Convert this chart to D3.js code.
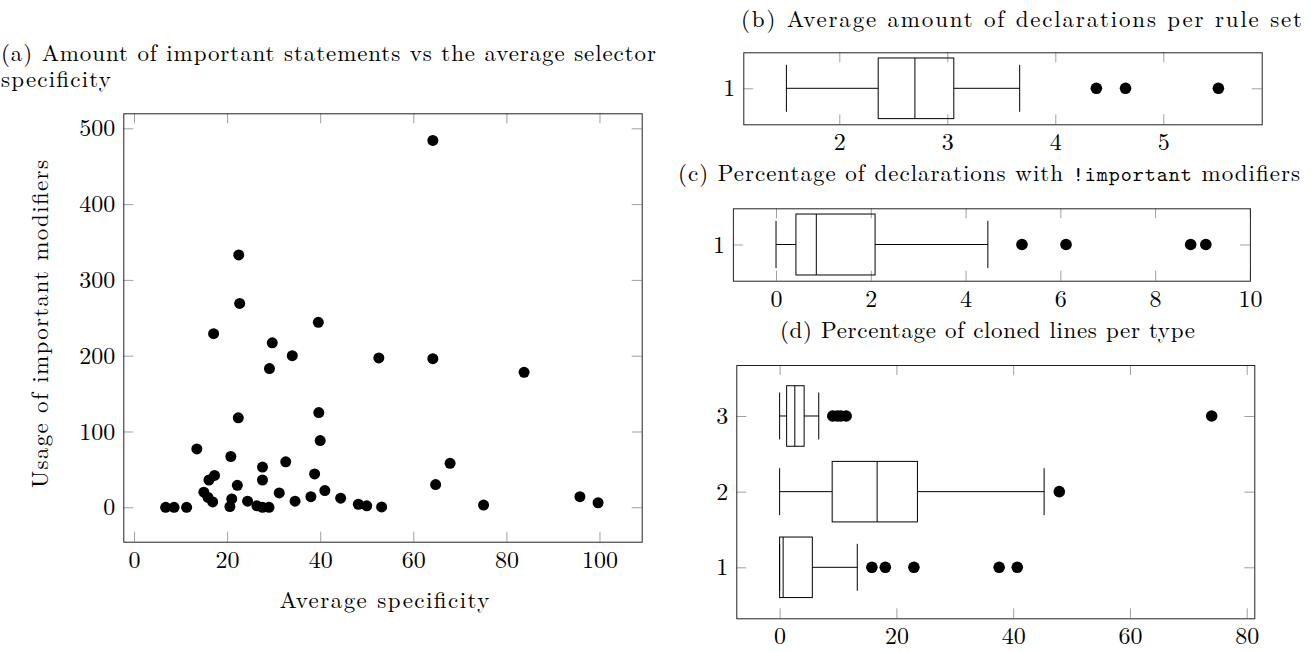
<!DOCTYPE html>
<html>
<head>
<meta charset="utf-8">
<script src="https://cdn.jsdelivr.net/npm/d3@7"></script>
<style>
  body { margin: 0; background: #fff; }
  svg { display: block; }
</style>
</head>
<body>
<div id="chart"></div>
<script>
// (a) scatter: average selector specificity vs number of !important usages
const specificity = [6.8, 8.6, 11.3, 13.5, 15.0, 15.9, 16.9, 16.1, 17.3, 17.1,
    20.6, 21.0, 20.8, 22.2, 22.4, 22.5, 22.7, 24.4, 26.4, 27.6,
    29.0, 27.6, 27.6, 29.7, 29.1, 31.2, 32.6, 34.0, 34.6, 38.0,
    38.8, 39.6, 39.7, 40.0, 41.0, 44.4, 48.2, 50.0, 52.6, 53.2,
    64.2, 64.2, 64.8, 67.9, 75.1, 83.8, 95.8, 99.7];
const importantUsage = [0, 0, 0, 77, 20, 13, 7, 36, 42, 229,
    1, 11, 67, 29, 118, 333, 269, 8, 2, 0,
    0, 53, 36, 217, 183, 19, 60, 200, 8, 14,
    44, 244, 125, 88, 22, 12, 4, 2, 197, 0.5,
    484, 196, 30, 58, 3, 178, 14, 6];
const scatterXTicks = [0, 20, 40, 60, 80, 100];
const scatterYTicks = [0, 100, 200, 300, 400, 500];

// box stats are [lower whisker, q1, median, q3, upper whisker]
const declarationStats = [1.51, 2.36, 2.70, 3.06, 3.67];
const declarationOutliers = [4.38, 4.65, 5.51];
const declarationTicks = [2, 3, 4, 5];

const importantStats = [0, 0.42, 0.85, 2.09, 4.47];
const importantOutliers = [5.19, 6.12, 8.75, 9.07];
const importantTicks = [0, 2, 4, 6, 8, 10];

const cloneTypes = [1, 2, 3];
const cloneStats = [
    [0, 0, 0.6, 5.6, 13.3],
    [0, 9.0, 16.7, 23.6, 45.3],
    [0, 1.2, 2.6, 4.2, 6.7]
];
const cloneOutliers = [
    [15.8, 18.1, 23.0, 37.6, 40.7],
    [47.9],
    [9.1, 9.9, 10.5, 11.4, 74.0]
];
const cloneTicks = [0, 20, 40, 60, 80];
const singleTick = [1];

const WIDTH = 1311, HEIGHT = 653;
const SERIF = '"Latin Modern Roman"';
const MONO = '"Latin Modern Mono", "DejaVu Sans Mono", monospace';
const TICK_FONT = "24px", TITLE_FONT = "23px";
const TICK_COLOR = "#a0a0a0";
const TICK_LEN = 10;
const BOX_HALF = 0.4, CAP_HALF = 0.31;

const FRAME_A = { LEFT: 123.3, RIGHT: 641.7, TOP: 113.3, BOTTOM: 541.7 },
    FRAME_B = { LEFT: 743.3, RIGHT: 1261.7, TOP: 52.3, BOTTOM: 124.3 },
    FRAME_C = { LEFT: 732.9, RIGHT: 1249.9, TOP: 208.3, BOTTOM: 280.7 },
    FRAME_D = { LEFT: 736.3, RIGHT: 1254.3, TOP: 365, BOTTOM: 618.3 };

const svg = d3.select("#chart")
    .append("svg")
    .attr("width", WIDTH)
    .attr("height", HEIGHT);

function cleanAxis(sel) {
    sel.attr("font-family", null).attr("font-size", null);
    sel.select(".domain").remove();
    sel.selectAll(".tick line").attr("stroke", TICK_COLOR);
    sel.selectAll(".tick text").attr("fill", "#000");
}

function makePanel(frame, xDomain, yDomain, xTicks, yTicks) {
    const x = d3.scaleLinear().domain(xDomain).range([frame.LEFT, frame.RIGHT]);
    const y = d3.scaleLinear().domain(yDomain).range([frame.BOTTOM, frame.TOP]);
    const g = svg.append("g");
    const fmt = d3.format("d");

    g.append("g")
        .attr("transform", `translate(0, ${frame.BOTTOM})`)
        .call(d3.axisBottom(x).tickValues(xTicks).tickFormat(fmt)
            .tickSizeInner(-TICK_LEN).tickSizeOuter(0).tickPadding(9))
        .call(cleanAxis);
    g.append("g")
        .attr("transform", `translate(0, ${frame.TOP})`)
        .call(d3.axisTop(x).tickValues(xTicks).tickSizeInner(-TICK_LEN).tickSizeOuter(0).tickFormat(""))
        .call(cleanAxis);
    g.append("g")
        .attr("transform", `translate(${frame.LEFT}, 0)`)
        .call(d3.axisLeft(y).tickValues(yTicks).tickFormat(fmt)
            .tickSizeInner(-TICK_LEN).tickSizeOuter(0).tickPadding(8))
        .call(cleanAxis);
    g.append("g")
        .attr("transform", `translate(${frame.RIGHT}, 0)`)
        .call(d3.axisRight(y).tickValues(yTicks).tickSizeInner(-TICK_LEN).tickSizeOuter(0).tickFormat(""))
        .call(cleanAxis);

    // Frame on top of the ticks
    g.append("rect")
        .attr("x", frame.LEFT + 0.5)
        .attr("y", frame.TOP + 0.5)
        .attr("width", frame.RIGHT - frame.LEFT)
        .attr("height", frame.BOTTOM - frame.TOP)
        .attr("fill", "none")
        .attr("stroke", "#222")
        .attr("stroke-width", 1);

    return { g, x, y };
}

function boxPlot(p, stats, outliers, cat) {
    const [lo, q1, med, q3, hi] = stats;
    const yc = p.y(cat);
    const boxTop = p.y(cat + BOX_HALF), boxBottom = p.y(cat - BOX_HALF);
    const capTop = p.y(cat + CAP_HALF), capBottom = p.y(cat - CAP_HALF);
    const lines = [
        [p.x(lo), yc, p.x(q1), yc],
        [p.x(q3), yc, p.x(hi), yc],
        [p.x(lo), capTop, p.x(lo), capBottom],
        [p.x(hi), capTop, p.x(hi), capBottom],
        [p.x(med), boxTop, p.x(med), boxBottom]
    ];
    p.g.append("g")
        .selectAll("line")
        .data(lines)
        .join("line")
        .attr("x1", d => d[0]).attr("y1", d => d[1])
        .attr("x2", d => d[2]).attr("y2", d => d[3])
        .attr("stroke", "#000")
        .attr("stroke-width", 1);
    p.g.append("rect")
        .attr("x", p.x(q1))
        .attr("y", boxTop)
        .attr("width", p.x(q3) - p.x(q1))
        .attr("height", boxBottom - boxTop)
        .attr("fill", "none")
        .attr("stroke", "#000")
        .attr("stroke-width", 1);
    p.g.append("g")
        .selectAll("circle")
        .data(outliers)
        .join("circle")
        .attr("cx", d => p.x(d))
        .attr("cy", yc)
        .attr("r", 5.8)
        .attr("fill", "#000");
}

function label(x, y, str, width, anchor) {
    return svg.append("text")
        .attr("class", "title")
        .attr("x", x)
        .attr("y", y)
        .attr("text-anchor", anchor || "start")
        .attr("textLength", width)
        .attr("lengthAdjust", "spacing")
        .text(str);
}

// (a) scatter
const pa = makePanel(FRAME_A, [-2.3, 109.07], [-45.4, 519.8], scatterXTicks, scatterYTicks);
pa.g.append("g")
    .selectAll("circle")
    .data(specificity.map((s, i) => ({ s, n: importantUsage[i] })))
    .join("circle")
    .attr("cx", d => pa.x(d.s))
    .attr("cy", d => pa.y(d.n))
    .attr("r", 5.5)
    .attr("fill", "#000");

label(1, 61, "(a) Amount of important statements vs the average selector", 655);
label(1, 87, "specificity", 110);
label(384.5, 608, "Average specificity", 210, "middle");
svg.append("text")
    .attr("class", "title")
    .attr("transform", "translate(48, 324) rotate(-90)")
    .attr("text-anchor", "middle")
    .attr("textLength", 328)
    .attr("lengthAdjust", "spacing")
    .text("Usage of important modifiers");

// (b) declarations per rule set
const pb = makePanel(FRAME_B, [1.111, 5.911], [0.525, 1.475], declarationTicks, singleTick);
boxPlot(pb, declarationStats, declarationOutliers, 1);
label(741, 27, "(b) Average amount of declarations per rule set", 561);

// (c) !important share
const pc = makePanel(FRAME_C, [-0.91, 10.0], [0.525, 1.475], importantTicks, singleTick);
boxPlot(pc, importantStats, importantOutliers, 1);
const titleC = svg.append("text")
    .attr("class", "title")
    .attr("x", 678)
    .attr("y", 181)
    .attr("textLength", 622)
    .attr("lengthAdjust", "spacing");
titleC.append("tspan").text("(c) Percentage of declarations with ");
titleC.append("tspan")
    .attr("class", "mono")
    .text("!important");
titleC.append("tspan").text(" modifiers");

// (d) cloned lines per type
const pd = makePanel(FRAME_D, [-7.42, 81.3], [0.326, 3.674], cloneTicks, cloneTypes);
cloneTypes.forEach((t, i) => boxPlot(pd, cloneStats[i], cloneOutliers[i], t));
label(780, 338, "(d) Percentage of cloned lines per type", 415);

// Fonts set inline on every text element
svg.selectAll("text")
    .style("font-family", SERIF)
    .style("font-size", TICK_FONT);
svg.selectAll("text.title")
    .style("font-size", TITLE_FONT);
svg.selectAll("tspan.mono")
    .style("font-family", MONO)
    .style("font-size", "21px");
</script>
</body>
</html>
